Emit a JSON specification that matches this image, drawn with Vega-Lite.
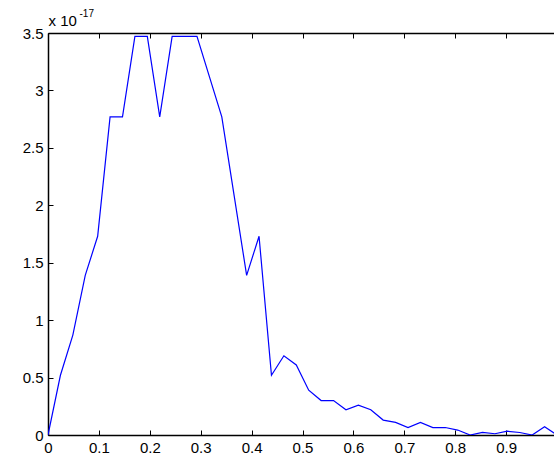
{
  "$schema": "https://vega.github.io/schema/vega-lite/v6.json",
  "width": 506,
  "height": 402,
  "autosize": "none",
  "padding": {"left": 48, "top": 33, "right": 0, "bottom": 22},
  "background": "white",
  "config": {
    "view": {"stroke": null},
    "axis": {"domainColor": "black", "domainWidth": 1.5, "tickColor": "black", "tickWidth": 1, "tickSize": -5, "labelFont": "Liberation Sans", "labelFontSize": 15, "labelColor": "black", "grid": false, "labelPadding": 10, "labelFlush": false, "labelOverlap": false, "titleFont": "Liberation Sans"}
  },
  "data": {"values": [
    {"x": 0, "v": 0},
    {"x": 0.02439, "v": 0.52},
    {"x": 0.04878, "v": 0.87},
    {"x": 0.07317, "v": 1.39},
    {"x": 0.09756, "v": 1.73},
    {"x": 0.12195, "v": 2.77},
    {"x": 0.14634, "v": 2.77},
    {"x": 0.17073, "v": 3.47},
    {"x": 0.19512, "v": 3.47},
    {"x": 0.21951, "v": 2.77},
    {"x": 0.2439, "v": 3.47},
    {"x": 0.26829, "v": 3.47},
    {"x": 0.29268, "v": 3.47},
    {"x": 0.31707, "v": 3.12},
    {"x": 0.34146, "v": 2.77},
    {"x": 0.36585, "v": 2.08},
    {"x": 0.39024, "v": 1.39},
    {"x": 0.41463, "v": 1.73},
    {"x": 0.43902, "v": 0.52},
    {"x": 0.46341, "v": 0.69},
    {"x": 0.4878, "v": 0.61},
    {"x": 0.5122, "v": 0.39},
    {"x": 0.53659, "v": 0.3},
    {"x": 0.56098, "v": 0.3},
    {"x": 0.58537, "v": 0.22},
    {"x": 0.60976, "v": 0.26},
    {"x": 0.63415, "v": 0.22},
    {"x": 0.65854, "v": 0.13},
    {"x": 0.68293, "v": 0.11},
    {"x": 0.70732, "v": 0.065},
    {"x": 0.73171, "v": 0.11},
    {"x": 0.7561, "v": 0.065},
    {"x": 0.78049, "v": 0.065},
    {"x": 0.80488, "v": 0.043},
    {"x": 0.82927, "v": 0.0},
    {"x": 0.85366, "v": 0.022},
    {"x": 0.87805, "v": 0.011},
    {"x": 0.90244, "v": 0.033},
    {"x": 0.92683, "v": 0.022},
    {"x": 0.95122, "v": 0.0},
    {"x": 0.97561, "v": 0.072},
    {"x": 1.0, "v": 0.0}
  ]},
  "encoding": {
    "y": {"field": "v", "type": "quantitative", "scale": {"domain": [0, 3.5], "nice": false, "zero": false},
      "axis": {"values": [0, 0.5, 1, 1.5, 2, 2.5, 3, 3.5], "format": "~g", "title": "x 10", "titleAngle": 0, "titleAlign": "left", "titleBaseline": "alphabetic", "titleX": 0, "titleY": -8, "titleFontSize": 15, "titleFontWeight": "normal", "titleColor": "black"}}
  },
  "layer": [
    {
      "mark": {"type": "line", "color": "#0000ff", "strokeWidth": 1.2, "clip": true},
      "encoding": {
        "x": {"field": "x", "type": "quantitative", "scale": {"domain": [0, 1], "range": [0, 509], "nice": false, "zero": false},
          "axis": {"orient": "bottom", "values": [0, 0.1, 0.2, 0.3, 0.4, 0.5, 0.6, 0.7, 0.8, 0.9], "format": "~g", "title": null}}
      }
    },
    {
      "mark": {"type": "line", "opacity": 0},
      "encoding": {
        "x": {"field": "x", "type": "quantitative", "scale": {"domain": [0, 1], "range": [0, 509], "nice": false, "zero": false},
          "axis": {"orient": "top", "values": [0, 0.1, 0.2, 0.3, 0.4, 0.5, 0.6, 0.7, 0.8, 0.9], "labels": false, "title": "-17", "titleAngle": 0, "titleAlign": "left", "titleBaseline": "alphabetic", "titleX": 31, "titleY": -17, "titleFontSize": 10, "titleFontWeight": "normal", "titleColor": "black"}}
      }
    }
  ],
  "resolve": {"axis": {"x": "independent"}}
}
